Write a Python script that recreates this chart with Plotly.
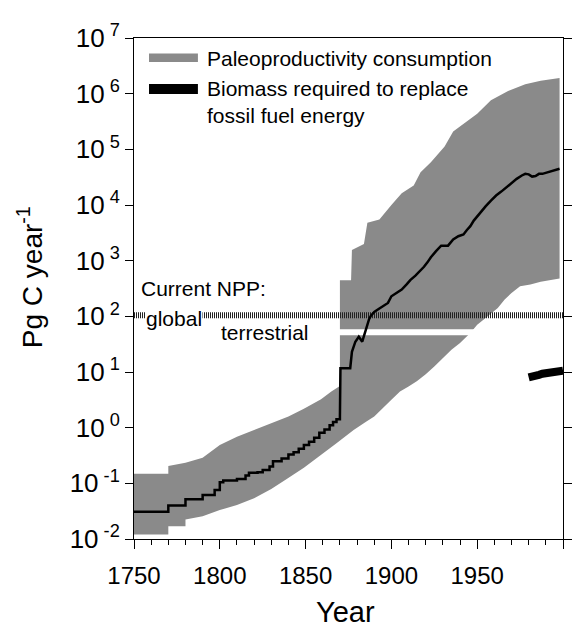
import plotly.graph_objects as go

# ---------------- data ----------------
band_upper_years = [1750, 1770, 1770, 1780, 1790, 1800, 1810, 1820, 1830, 1840, 1849, 1859, 1865, 1870,
                    1870, 1876.5, 1877, 1880, 1884, 1886, 1893, 1900, 1906, 1913, 1917, 1923, 1931,
                    1936, 1943, 1950, 1958, 1968, 1978, 1987, 1998]
band_upper = [0.148, 0.148, 0.204, 0.234, 0.288, 0.49, 0.69, 0.91, 1.20, 1.58, 2.19, 3.24, 4.47, 5.6,
              447, 447, 1550, 1740, 2000, 4790, 5500, 10000, 16200, 22400, 38900, 58900, 112000,
              209000, 302000, 437000, 759000, 1120000, 1480000, 1700000, 1910000]

band_lower_years = [1750, 1770, 1770, 1780, 1780, 1790, 1800, 1810, 1820, 1830, 1839, 1849, 1859, 1868,
                    1878, 1885, 1890, 1895, 1900, 1905, 1910, 1915, 1920, 1925, 1930, 1935, 1940,
                    1946, 1950, 1954, 1962, 1966, 1970, 1975, 1981, 1987, 1998]
band_lower = [0.012, 0.012, 0.017, 0.017, 0.0224, 0.0257, 0.0331, 0.0407, 0.0537, 0.0794, 0.120, 0.191,
              0.331, 0.525, 0.912, 1.26, 1.58, 2.24, 3.16, 4.47, 5.5, 6.9, 9.1, 12.6, 17.4, 25.1, 33.1,
              50.1, 70.8, 89, 141, 200, 263, 347, 372, 417, 479]

median_early_years = [1750, 1770, 1780, 1790, 1797, 1800, 1802, 1810, 1815, 1817, 1822, 1825, 1829,
                      1831, 1836, 1840, 1843, 1846, 1849, 1852, 1855, 1858, 1861, 1864, 1866, 1868, 1870]
median_early = [0.031, 0.040, 0.052, 0.062, 0.076, 0.105, 0.112, 0.120, 0.138, 0.155, 0.158, 0.174, 0.20,
                0.25, 0.28, 0.33, 0.36, 0.42, 0.49, 0.56, 0.66, 0.81, 0.93, 1.10, 1.26, 1.41, 1.55]

median_late_years = [1870, 1870.3, 1876, 1877, 1879, 1881, 1883, 1885, 1887, 1888, 1890, 1893, 1896,
                     1898, 1900, 1903, 1906, 1909, 1911, 1914, 1917, 1919, 1921, 1923, 1926, 1929,
                     1933, 1936, 1939, 1942, 1944, 1946, 1948, 1950, 1952, 1955, 1958, 1961, 1964,
                     1967, 1970, 1973, 1976, 1978, 1980, 1982, 1984, 1986, 1988, 1990, 1993, 1996, 1998]
median_late = [1.55, 11.7, 11.7, 23, 35, 43, 35, 59, 89, 102, 120, 138, 158,
               174, 229, 263, 302, 380, 447, 537, 661, 776, 933, 1150, 1480, 1860,
               1860, 2400, 2750, 2950, 3550, 4170, 5250, 6300, 7600, 9550, 12000, 14800, 17400,
               20900, 25100, 29500, 33900, 36300, 35500, 32400, 33100, 36300, 36300, 38000, 40700, 42700, 44700]

bio_years = [1980, 1982, 1984, 1986, 1988, 1990, 1992, 1994, 1996, 1998, 2000]
bio_vals = [8.0, 8.1, 8.4, 8.9, 9.3, 9.6, 9.9, 10.1, 10.3, 10.5, 10.6]

NPP_GLOBAL = 105
NPP_TERRESTRIAL = 52
npp_years = [1750, 2000]

x_tickvals = [1750, 1800, 1850, 1900, 1950, 2000]
y_exponents = [-2, -1, 0, 1, 2, 3, 4, 5, 6, 7]

# ---------------- styling ----------------
FONT = "Liberation Sans, Arial, Helvetica, sans-serif"
BAND = "rgb(138,138,138)"

fig = go.Figure()

fig.add_trace(go.Scatter(
    x=band_upper_years + band_lower_years[::-1],
    y=band_upper + band_lower[::-1],
    fill="toself", fillcolor=BAND, mode="lines", line=dict(width=0),
    hoverinfo="skip", showlegend=False))

fig.add_trace(go.Scatter(
    x=npp_years, y=[NPP_TERRESTRIAL] * len(npp_years), mode="lines",
    line=dict(color="white", width=6), showlegend=False, hoverinfo="skip"))

fig.add_trace(go.Scatter(
    x=npp_years, y=[NPP_GLOBAL] * len(npp_years), mode="lines",
    line=dict(color="#222", width=6, dash="1px,1px"), showlegend=False, hoverinfo="skip"))

fig.add_trace(go.Scatter(
    x=median_early_years, y=median_early, mode="lines", line_shape="hv",
    line=dict(color="black", width=2.5), showlegend=False))

fig.add_trace(go.Scatter(
    x=median_late_years, y=median_late, mode="lines",
    line=dict(color="black", width=2.5), showlegend=False))

fig.add_trace(go.Scatter(
    x=bio_years, y=bio_vals, mode="lines",
    line=dict(color="black", width=8), showlegend=False))

# ---------------- axes ----------------
fig.update_xaxes(
    range=[1750, 2000], tickvals=x_tickvals, ticks="outside", ticklen=9, tickwidth=1,
    tickcolor="black", showline=True, linecolor="black", linewidth=1, mirror=True,
    showgrid=False, zeroline=False, tickfont=dict(size=24, family=FONT, color="black"),
    minor=dict(dtick=10, ticks="outside", ticklen=5, tickcolor="black", tickwidth=1, showgrid=False),
    ticklabelstandoff=6)

fig.update_yaxes(
    type="log", range=[-2, 7],
    tickvals=[10.0 ** e for e in y_exponents],
    ticktext=[f"10<sup> {e}</sup>" for e in y_exponents],
    ticks="outside", ticklen=8, tickwidth=1, tickcolor="black",
    showline=True, linecolor="black", linewidth=1, mirror="ticks",
    showgrid=False, zeroline=False, tickfont=dict(size=26, family=FONT, color="black"))

# ---------------- annotations ----------------
ann = []
ann.append(dict(text="Current NPP:", xref="x", yref="y", x=1753, y=2.5, xanchor="left",
                yanchor="middle", showarrow=False, font=dict(size=21, family=FONT, color="black")))
ann.append(dict(text="global", xref="x", yref="y", x=1773.4, y=1.96, xanchor="center",
                yanchor="middle", showarrow=False, bgcolor="white", borderpad=0,
                font=dict(size=21, family=FONT, color="black")))
ann.append(dict(text="terrestrial", xref="x", yref="y", x=1826.5, y=1.71, xanchor="center",
                yanchor="middle", showarrow=False, font=dict(size=21, family=FONT, color="black")))
# legend texts
ann.append(dict(text="Paleoproductivity consumption", xref="paper", yref="paper", x=0.1655, y=0.959,
                xanchor="left", yanchor="middle", showarrow=False,
                font=dict(size=21, family=FONT, color="black")))
ann.append(dict(text="Biomass required to replace<br>fossil fuel energy", xref="paper", yref="paper",
                x=0.1655, y=0.873, xanchor="left", yanchor="middle", align="left", showarrow=False,
                font=dict(size=21, family=FONT, color="black")))
# axis titles
ann.append(dict(text="Pg C year<sup>-1</sup>", xref="paper", yref="paper", x=-0.242, y=0.523,
                xanchor="center", yanchor="middle", textangle=-90, showarrow=False,
                font=dict(size=28, family=FONT, color="black")))
ann.append(dict(text="Year", xref="paper", yref="paper", x=0.494, y=-0.146,
                xanchor="center", yanchor="middle", showarrow=False,
                font=dict(size=29, family=FONT, color="black")))

shapes = [
    dict(type="rect", xref="paper", yref="paper", x0=0.035, x1=0.149, y0=0.952, y1=0.969,
         fillcolor=BAND, line=dict(width=0)),
    dict(type="rect", xref="paper", yref="paper", x0=0.035, x1=0.149, y0=0.888, y1=0.908,
         fillcolor="black", line=dict(width=0)),
]

# the page body adds an 8px offset, so the figure is 8px smaller on each far side
fig.update_layout(
    width=579, height=623,
    margin=dict(l=126, r=24, t=18, b=92),
    paper_bgcolor="white", plot_bgcolor="white",
    font=dict(family=FONT, color="black"),
    annotations=ann, shapes=shapes, showlegend=False)

fig.write_html("out.html")
